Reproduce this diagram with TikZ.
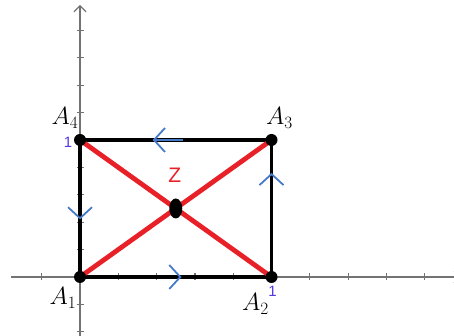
\documentclass[tikz,border=0pt]{standalone}
\usepackage{amsmath}
\usepackage{fontspec}
\newfontfamily\arialfont{Liberation Sans}
\usetikzlibrary{arrows.meta,decorations.markings,calc}
\definecolor{axisgray}{RGB}{115,115,115}
\definecolor{arrblue}{RGB}{70,122,200}
\definecolor{diagred}{RGB}{232,32,40}
\definecolor{onepurple}{RGB}{85,55,235}
\tikzset{
  axisline/.style={draw=axisgray,line width=1.3pt},
  vertex/.style={circle,fill=black,inner sep=0pt,minimum size=12pt},
  lbl/.style={font=\fontsize{24}{26}\selectfont,inner sep=0pt},
  onelbl/.style={font=\arialfont\fontsize{15}{16}\selectfont,text=onepurple,inner sep=0pt},
  side/.style={draw=black,line width=3.4pt,postaction={decorate},
    decoration={markings,mark=at position #1 with {\arrow[arrblue,line width=1.8pt]{Straight Barb[length=11pt,width=24pt]}}}},
  topside/.style={draw=black,line width=3.4pt,postaction={decorate},
    decoration={markings,mark=at position #1 with {\draw[arrblue,line width=2.6pt] (0,0) -- (-30pt,0);\arrow[arrblue,line width=1.8pt]{Straight Barb[length=11pt,width=24pt]}}}},
  diag/.style={draw=diagred,line width=4.8pt}
}
\begin{document}
\begin{tikzpicture}[x=38.3pt,y=27.4pt]
\useasboundingbox (-2.089,-2.153) rectangle (9.765,10.109);

%%%%%%%%%%%%%% axes
\coordinate (xl) at (-1.8,0);\coordinate (xr) at (9.95,0);
\coordinate (yb) at (0,-2.4);\coordinate (yt) at (0,9.93);
\draw[axisline,-{Straight Barb[length=6pt,width=12pt]}] (xl) -- (xr);
\draw[axisline,-{Straight Barb[length=6pt,width=12pt]}] (yb) -- (yt);
\foreach \i in {-1,1,2,...,9} {\draw[axisgray,line width=1.2pt] (\i,0) ++(0,-3.5pt) -- ++(0,7pt);}
\foreach \j in {-2,-1,1,2,...,9} {\draw[axisgray,line width=1.2pt] (0,\j) ++(-3.5pt,0) -- ++(7pt,0);}

%%%%%%%%%%%%%% rectangle
\coordinate (A1) at (0,0);\coordinate (A2) at (5,0);
\coordinate (A3) at (5,5);\coordinate (A4) at (0,5);
\coordinate (Z) at (2.5,2.5);
\draw[side=0.53] (A1) -- (A2);\draw[side=0.76] (A2) -- (A3);
\draw[topside=0.62] (A3) -- (A4);\draw[side=0.58] (A4) -- (A1);
\draw[diag] (A1) -- (A3);\draw[diag] (A2) -- (A4);

%%%%%%%%%%%%%% points
\node[vertex] (pA1) at (A1) {};\node[vertex] (pA2) at (A2) {};
\node[vertex] (pA3) at (A3) {};\node[vertex] (pA4) at (A4) {};
\fill (Z) ellipse [x radius=6.5pt,y radius=10pt];

%%%%%%%%%%%%%% labels
\node[lbl] (lA1) at ($(A1)+(-17pt,-21pt)$) {$A_1$};
\node[lbl] (lA2) at ($(A2)+(-16pt,-27pt)$) {$A_2$};
\node[lbl] (lA3) at ($(A3)+(8pt,22pt)$) {$A_3$};
\node[lbl] (lA4) at ($(A4)+(-15pt,22pt)$) {$A_4$};
\node[onelbl] (oneA4) at ($(A4)+(-12pt,-2pt)$) {1};
\node[onelbl] (oneA2) at ($(A2)+(1pt,-14pt)$) {1};
\node[font=\arialfont\fontsize{21}{22}\selectfont,text=diagred,inner sep=0pt] (lZ) at ($(Z)+(-1pt,33pt)$) {Z};

\end{tikzpicture}
\end{document}
